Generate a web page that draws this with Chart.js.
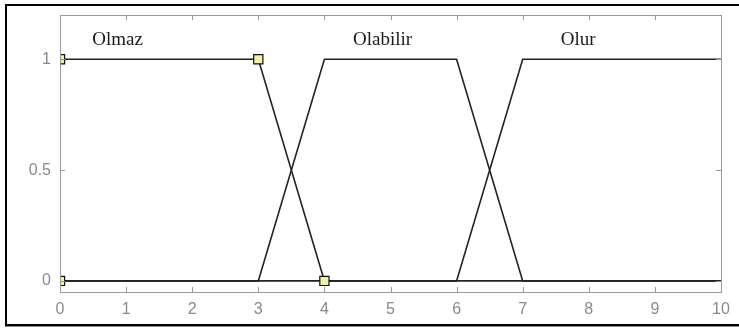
<!DOCTYPE html>
<html>
<head>
<meta charset="utf-8">
<script src="https://cdn.jsdelivr.net/npm/chart.js@4"></script>
<style>
  html, body { margin: 0; padding: 0; background: #ffffff; }
  #wrap { position: relative; width: 739px; height: 328px; overflow: hidden; background: #ffffff; }
  #frame { position: absolute; left: 5px; top: 4px; width: 800px; height: 322px; box-sizing: border-box;
           border: 2px solid #000; border-right: none; box-shadow: 0 1px 0 #888; pointer-events: none; }
  canvas { position: absolute; left: 0; top: 0; }
</style>
</head>
<body>
<div id="wrap">
  <canvas id="c" width="739" height="328"></canvas>
  <div id="frame"></div>
</div>
<script>
// ---- data ----
const olmazX = [0, 3, 4, 10];
const olmazY = [1, 1, 0, 0];
const olabilirX = [0, 3, 4, 6, 7, 10];
const olabilirY = [0, 0, 1, 1, 0, 0];
const olurX = [0, 6, 7, 10];
const olurY = [0, 0, 1, 1];
const markerX = [0, 0, 3, 4];
const markerY = [0, 1, 1, 0];
const labelNames = ['Olmaz', 'Olabilir', 'Olur'];
const labelX = [0.87, 4.88, 7.84];
const labelY = [1.088, 1.088, 1.088];
const xTicks = [0, 1, 2, 3, 4, 5, 6, 7, 8, 9, 10];
const yTicks = [0, 0.5, 1];

const pts = (xs, ys) => xs.map((x, i) => ({ x: x, y: ys[i] }));
const lineColor = '#222222';

const lineDs = (name, xs, ys) => ({
  label: name, data: pts(xs, ys), showLine: true, borderColor: lineColor,
  borderWidth: 1.6, pointRadius: 0, fill: false, clip: 0, order: 2
});

const overlay = {
  id: 'overlay',
  beforeDatasetsDraw(chart) {
    const ctx = chart.ctx, a = chart.chartArea;
    ctx.save();
    ctx.fillStyle = '#ffffff';
    ctx.fillRect(a.left, a.top, a.right - a.left, a.bottom - a.top);
    ctx.restore();
  },
  afterDatasetsDraw(chart) {
    const ctx = chart.ctx, a = chart.chartArea;
    const xs = chart.scales.x, ys = chart.scales.y;
    ctx.save();
    ctx.strokeStyle = '#9a9a9a';
    ctx.lineWidth = 1;
    ctx.strokeRect(Math.round(a.left) + 0.5, Math.round(a.top) + 0.5,
                   Math.round(a.right - a.left), Math.round(a.bottom - a.top));
    const tl = 5;
    ctx.beginPath();
    xTicks.forEach(v => {
      const px = Math.round(xs.getPixelForValue(v)) + 0.5;
      ctx.moveTo(px, a.bottom); ctx.lineTo(px, a.bottom - tl);
      ctx.moveTo(px, a.top); ctx.lineTo(px, a.top + tl);
    });
    yTicks.forEach(v => {
      const py = Math.round(ys.getPixelForValue(v)) + 0.5;
      ctx.moveTo(a.left, py); ctx.lineTo(a.left + tl, py);
      ctx.moveTo(a.right, py); ctx.lineTo(a.right - tl, py);
    });
    ctx.stroke();
    ctx.fillStyle = '#1a1a1a';
    ctx.font = '19px "Liberation Serif", "Times New Roman", serif';
    ctx.textAlign = 'center';
    ctx.textBaseline = 'middle';
    labelNames.forEach((t, i) => {
      ctx.fillText(t, xs.getPixelForValue(labelX[i]), ys.getPixelForValue(labelY[i]));
    });
    ctx.restore();
  }
};

new Chart(document.getElementById('c'), {
  type: 'scatter',
  data: {
    datasets: [
      lineDs('Olmaz', olmazX, olmazY),
      lineDs('Olabilir', olabilirX, olabilirY),
      lineDs('Olur', olurX, olurY),
      {
        label: 'params', data: pts(markerX, markerY), showLine: false,
        pointStyle: 'rect', pointRadius: 6.5, pointBackgroundColor: '#f2f2a6',
        pointBorderColor: '#111111', pointBorderWidth: 1.2, clip: 0, order: 1
      }
    ]
  },
  options: {
    responsive: false,
    animation: false,
    events: [],
    layout: { padding: { left: 0, top: 15, right: 18, bottom: 0 } },
    plugins: { legend: { display: false }, tooltip: { enabled: false } },
    scales: {
      x: {
        type: 'linear', min: 0, max: 10,
        afterBuildTicks: s => { s.ticks = xTicks.map(v => ({ value: v })); },
        afterFit: s => { s.height = 36; s.paddingLeft = 0; s.paddingRight = 0; },
        grid: { display: false, drawTicks: false },
        border: { display: false },
        ticks: { color: '#8a8a8a', padding: 8, maxRotation: 0, autoSkip: false,
                 font: { family: '"Liberation Sans", Arial, sans-serif', size: 16 } }
      },
      y: {
        type: 'linear', min: -0.05, max: 1.2,
        afterBuildTicks: s => { s.ticks = yTicks.map(v => ({ value: v })); },
        afterFit: s => { s.width = 60; s.paddingTop = 0; s.paddingBottom = 0; },
        grid: { display: false, drawTicks: false },
        border: { display: false },
        ticks: { color: '#8a8a8a', padding: 9,
                 callback: v => String(v),
                 font: { family: '"Liberation Sans", Arial, sans-serif', size: 16 } }
      }
    }
  },
  plugins: [overlay]
});
</script>
</body>
</html>
